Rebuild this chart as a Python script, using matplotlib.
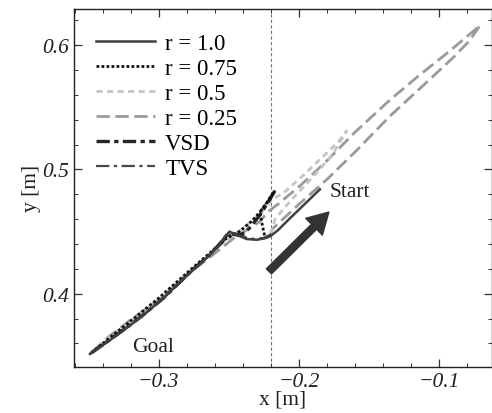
import matplotlib
matplotlib.use('Agg')
import matplotlib.pyplot as plt
from matplotlib.ticker import MultipleLocator

plt.rcParams['font.family'] = ['Liberation Serif', 'DejaVu Serif']
plt.rcParams['mathtext.fontset'] = 'stix'

# Trajektorien (x, y) in Metern
r10_x = [-0.185, -0.196, -0.207, -0.215, -0.2205, -0.2245, -0.2301, -0.2372, -0.2447, -0.2495,
         -0.2530, -0.2566, -0.2637, -0.2750, -0.2870, -0.2957, -0.3100, -0.3250, -0.3380, -0.3490]
r10_y = [0.484, 0.472, 0.460, 0.451, 0.4462, 0.4445, 0.4434, 0.4440, 0.4475, 0.4500,
         0.4455, 0.4400, 0.4310, 0.4195, 0.4070, 0.3975, 0.3835, 0.3705, 0.3600, 0.3515]

r075_x = [-0.2245, -0.2262, -0.2278, -0.2230, -0.2178, -0.2230, -0.2278, -0.2335, -0.2420,
          -0.2523, -0.2616, -0.2750, -0.2880, -0.3000, -0.3150, -0.3300, -0.3490]
r075_y = [0.4470, 0.4560, 0.4657, 0.4730, 0.4818, 0.4730, 0.4657, 0.4585, 0.4504,
          0.4440, 0.4346, 0.4215, 0.4085, 0.3965, 0.3825, 0.3690, 0.3515]

r05_x = [-0.2200, -0.2170, -0.2050, -0.1900, -0.1760, -0.1660, -0.1720, -0.1850, -0.2000, -0.2110,
         -0.2190, -0.2260, -0.2340, -0.2430, -0.2540, -0.2650, -0.2800, -0.3000, -0.3200, -0.3350, -0.3490]
r05_y = [0.4480, 0.4600, 0.4760, 0.4940, 0.5120, 0.5310, 0.5220, 0.5080, 0.4920, 0.4810,
         0.4760, 0.4660, 0.4580, 0.4500, 0.4410, 0.4300, 0.4160, 0.3950, 0.3780, 0.3650, 0.3515]

r025_x = [-0.2205, -0.2190, -0.2000, -0.1800, -0.1600, -0.1350, -0.1100, -0.0900, -0.0780, -0.0708,
          -0.0790, -0.0950, -0.1150, -0.1350, -0.1600, -0.1800, -0.2000, -0.2150, -0.2220, -0.2280,
          -0.2360, -0.2450, -0.2550, -0.2650, -0.2800, -0.3000, -0.3200, -0.3350, -0.3490]
r025_y = [0.4470, 0.4520, 0.4720, 0.4920, 0.5140, 0.5430, 0.5690, 0.5900, 0.6040, 0.6160,
          0.6080, 0.5930, 0.5750, 0.5560, 0.5300, 0.5070, 0.4860, 0.4720, 0.4660, 0.4580,
          0.4520, 0.4460, 0.4370, 0.4280, 0.4150, 0.3950, 0.3790, 0.3660, 0.3515]

vsd_x = [-0.2170, -0.2220, -0.2280, -0.2340, -0.2385, -0.2430, -0.2470, -0.2510, -0.2570,
         -0.2640, -0.2760, -0.2960, -0.3120, -0.3280, -0.3490]
vsd_y = [0.4830, 0.4735, 0.4630, 0.4545, 0.4490, 0.4470, 0.4480, 0.4475, 0.4395,
         0.4310, 0.4190, 0.3970, 0.3820, 0.3685, 0.3515]

tvs_x = [-0.2195, -0.2250, -0.2310, -0.2370, -0.2430, -0.2480, -0.2540, -0.2620, -0.2750,
         -0.2950, -0.3120, -0.3290, -0.3490]
tvs_y = [0.4480, 0.4450, 0.4440, 0.4450, 0.4480, 0.4490, 0.4420, 0.4325, 0.4200,
         0.3980, 0.3820, 0.3680, 0.3515]

switch_x = -0.22
arrow_tail = (-0.2214, 0.418)
arrow_head = (-0.1786, 0.4657)

fig = plt.figure(figsize=(4.92, 4.14), dpi=100)
ax = fig.add_axes([0.150, 0.111, 0.850, 0.866])

ax.axvline(switch_x, color='#777777', lw=0.8, dashes=(3, 2), zorder=1)

l025, = ax.plot(r025_x, r025_y, color='#9a9a9a', lw=2.0, dashes=(4.8, 2.0), label='r = 0.25')
l05, = ax.plot(r05_x, r05_y, color='#c4c4c4', lw=2.0, dashes=(2.2, 1.6), label='r = 0.5')
ltvs, = ax.plot(tvs_x, tvs_y, color='#4a4a4a', lw=1.6, dashes=(6, 2, 1.5, 2), label='TVS')
lvsd, = ax.plot(vsd_x, vsd_y, color='#262626', lw=2.4, dashes=(4, 1.3, 1.3, 1.3), label='VSD')
l075, = ax.plot(r075_x, r075_y, color='#111111', lw=2.0, dashes=(1, 0.8), label='r = 0.75')
l10, = ax.plot(r10_x, r10_y, color='#404040', lw=1.8, label='r = 1.0')

ax.annotate('', xy=arrow_head, xytext=arrow_tail,
            arrowprops=dict(arrowstyle='simple,head_length=1.5,head_width=1.7,tail_width=0.52',
                            color='#333333', shrinkA=0, shrinkB=0, mutation_scale=10))

ax.text(-0.319, 0.354, 'Goal', fontsize=15.5, color='#222222')
ax.text(-0.178, 0.4785, 'Start', fontsize=15.5, color='#222222')

ax.set_xlim(-0.3605, -0.0623)
ax.set_ylim(0.341, 0.6295)
ax.xaxis.set_major_locator(MultipleLocator(0.1))
ax.xaxis.set_minor_locator(MultipleLocator(0.02))
ax.yaxis.set_major_locator(MultipleLocator(0.1))
ax.yaxis.set_minor_locator(MultipleLocator(0.02))
ax.tick_params(which='both', direction='in', top=True, right=True, colors='#333333',
               labelsize=15.5, labelcolor='#222222')
ax.tick_params(which='major', length=6, width=0.9)
ax.tick_params(which='minor', length=3, width=0.7)
for lab in ax.get_xticklabels() + ax.get_yticklabels():
    lab.set_fontstyle('italic')
for s in ax.spines.values():
    s.set_color('#222222')
    s.set_linewidth(1.0)

ax.set_xlabel('x [m]', fontsize=15.5, color='#222222', labelpad=-1)
ax.set_ylabel('y [m]', fontsize=15.5, color='#222222', labelpad=1)

ax.legend(handles=[l10, l075, l05, l025, lvsd, ltvs], loc='upper left',
          bbox_to_anchor=(0.03, 0.957), frameon=False, fontsize=16.5,
          handlelength=2.6, handletextpad=0.44, labelspacing=0.17, borderaxespad=0)

fig.savefig('out.png', dpi=100)
